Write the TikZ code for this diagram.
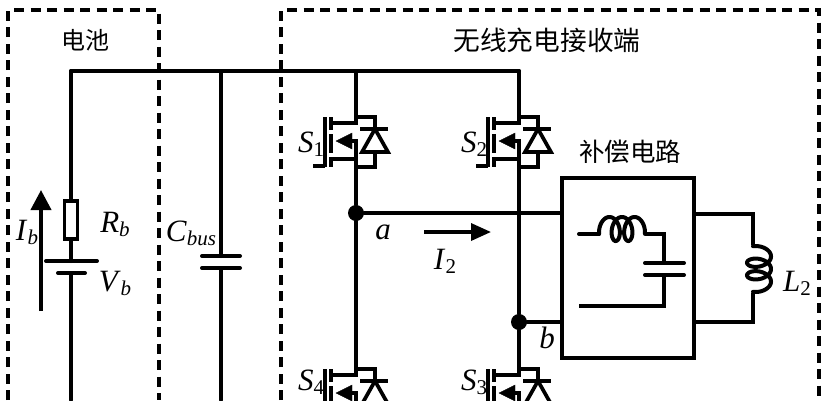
\documentclass[tikz,border=0pt]{standalone}
\usepackage{fontspec}
\setmainfont{Liberation Serif}
\newfontfamily\cjk{Noto Sans CJK SC}[Scale=1]
\usetikzlibrary{arrows.meta}
\newcommand{\lbl}[2]{\textit{#1}\raisebox{-4pt}{\fontsize{21}{21}\selectfont #2}}
\tikzset{
  wire/.style={line width=4pt, line cap=round, line join=miter},
  thinwire/.style={line width=3.7pt, line join=miter},
  regionbox/.style={line width=3.2pt, dash pattern=on 10pt off 6.5pt},
  junction/.style={circle, fill=black, inner sep=0pt, minimum size=16pt},
  zh/.style={font=\cjk\fontsize{24}{24}\selectfont, inner sep=0pt},
  sym/.style={font=\fontsize{31}{31}\selectfont, inner sep=0pt},
  pics/mosfet/.style={code={
    % origin sits on the drain line at the top of the switch
    \coordinate (-d) at (0,0);
    \coordinate (-s) at (0,50);
    \draw[thinwire] (0,0) -- (19,0) -- (19,12);
    \draw[thinwire] (0,50) -- (19,50) -- (19,35);
    \draw[thinwire] (4,12) -- (32,12);
    \draw[thinwire, fill=white] (19,12) -- (6,35) -- (32,35) -- cycle;
    \draw[thinwire] (-31,0) -- (-31,50) (-43,49) -- (-31,49);
    \draw[thinwire] (-25,0) -- (-25,13) (-25,17) -- (-25,36) (-25,40) -- (-25,50);
    \draw[thinwire] (-25,6) -- (0,6) -- (0,0);
    \draw[thinwire] (-25,42) -- (0,42) -- (0,50);
    \draw[thinwire] (0,42) -- (0,24) -- (-12,24);
    \draw[fill=black] (-20,24) -- (-4,16) -- (-4,32) -- cycle;
  }}
}
\begin{document}
\begin{tikzpicture}[x=1pt,y=-1pt]
\useasboundingbox (0,0) rectangle (828,400);
\clip (0,0) rectangle (828,400);
% regions
\draw[regionbox] (8,400) -- (8,10) -- (159,10) -- (159,400);
\draw[regionbox] (281,400) -- (281,10) -- (819,10) -- (819,400);
\node[zh] (batt) at (85,40) {电池};
\node[zh, font=\cjk\fontsize{26.7}{26.7}\selectfont] (recv) at (547,40) {无线充电接收端};
\node[zh, font=\cjk\fontsize{25.5}{25.5}\selectfont] (comp) at (630,152) {补偿电路};
% switches
\pic (s1) at (356,117) {mosfet};
\pic (s2) at (519,117) {mosfet};
\pic (s4) at (356,369) {mosfet};
\pic (s3) at (519,369) {mosfet};
% rail and battery branch
\coordinate (railL) at (71,71);
\coordinate (railC) at (221,71);
\coordinate (railA) at (356,71);
\coordinate (railB) at (519,71);
\draw[wire] (railL) -- (railB);
\draw[wire] (railA) -- (s1-d);
\draw[wire] (railB) -- (s2-d);
\node[draw, line width=3.4pt, fill=white, minimum width=13pt, minimum height=38pt, inner sep=0pt] (rb) at (71,220) {};
\coordinate (vbtop) at (71,261);
\coordinate (vbbot) at (71,273);
\coordinate (vbend) at (71,400);
\draw[wire] (railL) -- (rb.north);
\draw[wire] (rb.south) -- (vbtop);
\draw[wire] (46,261) -- (97,261);
\draw[wire] (58,273) -- (85,273);
\draw[wire] (vbbot) -- (vbend);
\draw[-{Triangle[length=20pt,width=20pt]}, wire, line cap=butt] (41,311) -- (41,190);
% bus capacitor
\coordinate (ctop) at (221,256);
\coordinate (cbot) at (221,268);
\coordinate (cend) at (221,400);
\draw[wire] (railC) -- (ctop);
\draw[wire] (202,256) -- (240,256);
\draw[wire] (202,268) -- (240,268);
\draw[wire] (cbot) -- (cend);
% bridge mid points
\node[junction] (a) at (356,213) {};
\node[junction] (b) at (519,322) {};
\draw[wire] (s1-s) -- (a);
\draw[wire] (a) -- (s4-d);
\draw[wire] (s2-s) -- (b);
\draw[wire] (b) -- (s3-d);
% compensation box
\node[draw, line width=4pt, minimum width=132pt, minimum height=180pt, inner sep=0pt] (box) at (628,268) {};
\draw[wire] (a) -- (box.west |- a);
\draw[wire] (b) -- (box.west |- b);
\coordinate (intop) at (579,234);
\coordinate (incorner) at (664,234);
\coordinate (incap) at (664,263);
\coordinate (incapb) at (664,275);
\coordinate (inbot) at (664,306);
\coordinate (inend) at (579,306);
\draw[wire] (intop) -- (599,234);
\draw[wire, domain=-474:474, samples=120, smooth] plot ({622+2*\x*pi/180+7*sin(\x)}, {229-12*cos(\x)});
\draw[wire, line cap=butt] (645,234) -- (incorner) -- (incap);
\draw[wire] (645,263) -- (684,263);
\draw[wire] (645,275) -- (684,275);
\draw[wire, line cap=butt] (incapb) -- (inbot) -- (inend);
% load coil
\coordinate (lt) at (753,214);
\coordinate (ltc) at (753,245);
\coordinate (lbc) at (753,293);
\coordinate (lb) at (753,322);
\draw[wire, line cap=butt] (box.east |- lt) -- (lt) -- (ltc);
\draw[wire, domain=-480:480, samples=120, smooth] plot ({759+12*cos(\x)}, {269+2*\x*pi/180+7*sin(\x)});
\draw[wire, line cap=butt] (lbc) -- (lb) -- (box.east |- lb);
% current arrow
\coordinate (i2a) at (424,232);
\coordinate (i2b) at (491,232);
\draw[-{Triangle[length=20pt,width=17pt]}, line width=3.4pt] (i2a) -- (i2b);
% labels
\node[sym] (ls1) at (311,144) {\lbl{S}{1}};
\node[sym] (ls2) at (474,144) {\lbl{S}{2}};
\node[sym] (ls4) at (311,382) {\lbl{S}{4}};
\node[sym] (ls3) at (474,382) {\lbl{S}{3}};
\node[sym] (lib) at (27,232) {\lbl{I}{\textit{b}}};
\node[sym] (lrb) at (115,224) {\lbl{R}{\textit{b}}};
\node[sym] (lvb) at (115,283) {\lbl{V}{\textit{b}}};
\node[sym] (lcb) at (191,233) {\lbl{C}{\textit{bus}}};
\node[sym] (la) at (383,232) {\textit{a}};
\node[sym] (li2) at (445,261) {\lbl{I}{2}};
\node[sym] (lbb) at (547,338) {\textit{b}};
\node[sym] (ll2) at (797,283) {\lbl{L}{2}};
\end{tikzpicture}
\end{document}
